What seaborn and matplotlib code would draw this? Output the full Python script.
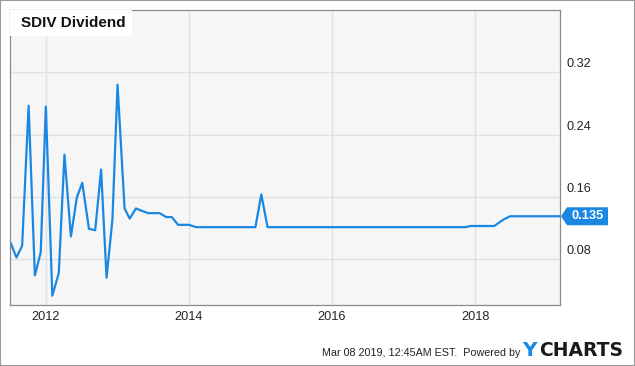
import matplotlib
matplotlib.use("Agg")
import matplotlib.pyplot as plt
import seaborn as sns
import pandas as pd
from matplotlib.transforms import ScaledTranslation, IdentityTransform
from matplotlib.patches import Rectangle, Polygon

# ---- data ----
dates = ["2011-07-05", "2011-08-04", "2011-09-02", "2011-10-05", "2011-11-06", "2011-12-06",
         "2012-01-01", "2012-02-03", "2012-03-07", "2012-04-05", "2012-05-08", "2012-06-07",
         "2012-07-05", "2012-08-08", "2012-09-09", "2012-10-09", "2012-11-06", "2012-12-06",
         "2013-01-01", "2013-02-06", "2013-03-04", "2013-04-05", "2013-05-05", "2013-06-07",
         "2013-08-04", "2013-09-06", "2013-10-05", "2013-11-06", "2014-01-01", "2014-02-06",
         "2014-12-06", "2015-01-05", "2015-02-06", "2017-11-10", "2017-12-09", "2018-04-08",
         "2018-05-27", "2018-06-28", "2019-03-08"]
dividend = [0.101, 0.082, 0.097, 0.277, 0.059, 0.089,
            0.276, 0.033, 0.062, 0.214, 0.109, 0.159,
            0.178, 0.119, 0.117, 0.195, 0.056, 0.131,
            0.304, 0.145, 0.132, 0.145, 0.142, 0.139,
            0.139, 0.134, 0.134, 0.124, 0.124, 0.121,
            0.121, 0.163, 0.121, 0.121, 0.1225, 0.1225,
            0.131, 0.135, 0.135]
tick_years = [2012, 2014, 2016, 2018]
y_ticks = [0.08, 0.16, 0.24, 0.32]
y_tick_labels = ["0.08", "0.16", "0.24", "0.32"]
title = "SDIV Dividend"
last_label = "0.135"
footer = "Mar 08 2019, 12:45AM EST.  Powered by"

BLUE = "#1a87e3"

sns.set_style("white")
plt.rcParams["font.family"] = ["Liberation Sans", "DejaVu Sans"]

W, H = 635, 366
fig = plt.figure(figsize=(W / 100, H / 100), dpi=100)
ax = fig.add_axes([10 / W, 61 / H, 550 / W, 295 / H])

df = pd.DataFrame({"date": pd.to_datetime(dates), "dividend": dividend})
sns.lineplot(data=df, x="date", y="dividend", ax=ax, color=BLUE, lw=1.6)

ax.set_facecolor("#f6f6f6")
ax.set_xlim(pd.Timestamp("2011-07-02"), pd.Timestamp("2019-03-10"))
ax.set_ylim(0.021, 0.40)
ax.set_xticks(pd.to_datetime([f"{y}-01-01" for y in tick_years]))
ax.set_xticklabels([str(y) for y in tick_years])
ax.set_yticks(y_ticks)
ax.set_yticklabels(y_tick_labels)
ax.yaxis.tick_right()
ax.set_xlabel("")
ax.set_ylabel("")
ax.grid(True, color="#e1e1e1", lw=1)
ax.set_axisbelow(True)
for s in ax.spines.values():
    s.set_color("#8a8a8a")
    s.set_linewidth(0.9)
ax.tick_params(axis="both", length=0, labelsize=9.2, colors="#222222")
ax.tick_params(axis="x", pad=4)
ax.tick_params(axis="y", pad=5)
for lab in ax.get_yticklabels():
    lab.set_transform(lab.get_transform() + ScaledTranslation(0, 9.5 / 100, fig.dpi_scale_trans))

# title box
ax.add_patch(Rectangle((0, 1 - 26 / 295), 122 / 550, 26 / 295, transform=ax.transAxes,
                       facecolor="white", edgecolor="none", zorder=5))
ax.text(11 / 550, 1 - 13 / 295, title, transform=ax.transAxes, ha="left", va="center",
        fontsize=11, fontweight="bold", color="#111111", zorder=6)

# last value tag
fig.canvas.draw()
yc = ax.transData.transform((0, dividend[-1]))[1]
x0 = ax.transAxes.transform((1, 0))[0]
poly = Polygon([(x0 + 1, yc), (x0 + 7, yc + 9), (x0 + 48, yc + 9), (x0 + 48, yc - 9), (x0 + 7, yc - 9)],
               closed=True, transform=IdentityTransform(), facecolor=BLUE, edgecolor="none")
fig.patches.append(poly)
fig.text((x0 + 28) / W, yc / H, last_label, ha="center", va="center", fontsize=9.3,
         fontweight="bold", color="white")

# footer
fig.text(520 / W, (H - 353) / H, footer, ha="right", va="center", fontsize=7.75, color="#222222")
fig.text(522 / W, (H - 350) / H, "Y", ha="left", va="center", fontsize=14.5, fontweight="bold",
         color=BLUE, family="DejaVu Sans")
fig.text(539 / W, (H - 350) / H, "CHARTS", ha="left", va="center", fontsize=13.5, fontweight="bold",
         color="#1a1a1a", family="DejaVu Sans")

# outer frame
fig.patches.append(Rectangle((0, 0), 1, 1, transform=fig.transFigure, fill=False,
                             edgecolor="#9a9a9a", lw=1.5))

fig.savefig("out.png", dpi=100)
